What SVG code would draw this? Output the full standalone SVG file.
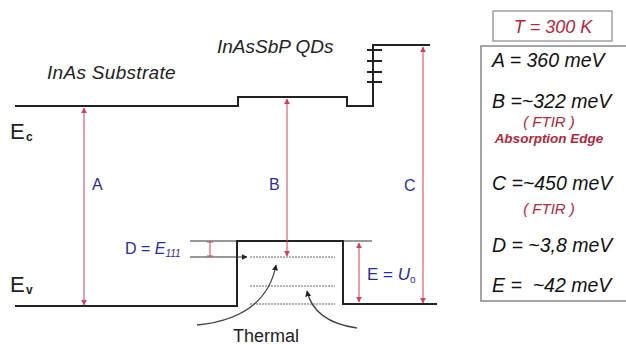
<svg xmlns="http://www.w3.org/2000/svg" width="626" height="345" viewBox="0 0 626 345">
<style>
.band{fill:none;stroke:#222;stroke-width:2}
.thin{fill:none;stroke:#333;stroke-width:1}
.dot{fill:none;stroke:#666;stroke-width:1;stroke-dasharray:2,1}
.arr{fill:none;stroke:#d0405e;stroke-width:1}
.curve{fill:none;stroke:#444;stroke-width:1.3}
.lbl{font-family:"Liberation Sans",Arial,sans-serif;fill:#222}
.blue{font-family:"Liberation Sans",Arial,sans-serif;fill:#2c2c9c}
.val{font-family:"Liberation Sans",Arial,sans-serif;font-style:italic;font-size:19.5px;fill:#111}
.red{font-family:"Liberation Sans",Arial,sans-serif;font-style:italic;fill:#b0283c}
</style>
<defs>
<marker id="ar" viewBox="0 0 10 10" refX="9" refY="5" markerWidth="6" markerHeight="6" orient="auto-start-reverse" markerUnits="userSpaceOnUse">
<path d="M0,0 L10,5 L0,10 z" fill="#d0405e"/>
</marker>
<marker id="ak" viewBox="0 0 10 10" refX="9" refY="5" markerWidth="6" markerHeight="6" orient="auto" markerUnits="userSpaceOnUse">
<path d="M0,0 L10,5 L0,10 z" fill="#222"/>
</marker>
</defs>
<g id="bands">
<path class="band" d="M15,106 H238 V97 H347 V106 H373 V45 H430"/>
<path class="band" d="M367,50 H382 M367,61 H382 M367,72 H382 M367,82 H382" stroke-width="1.5"/>
<path class="band" d="M15,306 H237 V241 H343 V304 H437"/>
<path class="thin" d="M190,241 H237 M343,241 H372"/>
<path class="thin" d="M190,257 H247" marker-end="url(#ak)"/>
<path class="dot" d="M250,257 H335 M250,286 H335 M250,304 H335"/>
</g>
<g id="connectors">
<line class="arr" x1="84" y1="108" x2="84" y2="305" marker-start="url(#ar)" marker-end="url(#ar)"/>
<line class="arr" x1="287" y1="99" x2="287" y2="256" marker-start="url(#ar)" marker-end="url(#ar)"/>
<line class="arr" x1="423" y1="47" x2="423" y2="303" marker-start="url(#ar)" marker-end="url(#ar)"/>
<line class="arr" x1="210" y1="242" x2="210" y2="256"/>
<path class="arr" d="M207,242 H213 M207,256 H213"/>
<line class="arr" x1="359" y1="243" x2="359" y2="302" marker-start="url(#ar)" marker-end="url(#ar)"/>
<path class="curve" d="M197,325 Q266,318 276,265" marker-end="url(#ak)"/>
<path class="curve" d="M357,328 Q314,322 307,291" marker-end="url(#ak)"/>
</g>
<g id="labels">
<text class="lbl" x="47" y="79" font-size="19" font-style="italic" letter-spacing="0.3">InAs Substrate</text>
<text class="lbl" x="217" y="53" font-size="19" font-style="italic">InAsSbP QDs</text>
<text class="lbl" x="233" y="342" font-size="18">Thermal</text>
<text class="lbl" x="10" y="139" font-size="22">E<tspan x="26" y="141" font-size="12" font-weight="bold">c</tspan></text>
<text class="lbl" x="10" y="292" font-size="22">E<tspan x="26" y="294" font-size="12" font-weight="bold">v</tspan></text>
<text class="blue" x="92" y="190" font-size="16">A</text>
<text class="blue" x="269" y="190" font-size="16">B</text>
<text class="blue" x="404" y="191" font-size="16">C</text>
<text class="blue" x="125" y="254" font-size="16">D = <tspan font-style="italic">E</tspan><tspan font-style="italic" font-size="10" dy="3">111</tspan></text>
<text class="blue" x="367" y="280" font-size="17">E = <tspan font-style="italic">U</tspan><tspan font-size="10" dy="3">o</tspan></text>
</g>
<g id="temp">
<rect x="493" y="11" width="119" height="30" fill="#fff" stroke="#888" stroke-width="1.2"/>
<text class="red" x="553" y="33" font-size="18" text-anchor="middle">T = 300 K</text>
</g>
<g id="values">
<rect x="481" y="46" width="150" height="255" fill="#fff" stroke="#888" stroke-width="1.5"/>
<text class="val" x="492" y="67">A = 360 meV</text>
<text class="val" x="492" y="108">B =~322 meV</text>
<text class="red" x="549" y="127" font-size="15" text-anchor="middle">( FTIR )</text>
<text class="red" x="549" y="143" font-size="13.5" font-weight="bold" text-anchor="middle">Absorption Edge</text>
<text class="val" x="492" y="190">C =~450 meV</text>
<text class="red" x="549" y="214" font-size="15" text-anchor="middle">( FTIR )</text>
<text class="val" x="492" y="252">D = ~3,8 meV</text>
<text class="val" x="492" y="292" xml:space="preserve">E =  ~42 meV</text>
</g>
</svg>
